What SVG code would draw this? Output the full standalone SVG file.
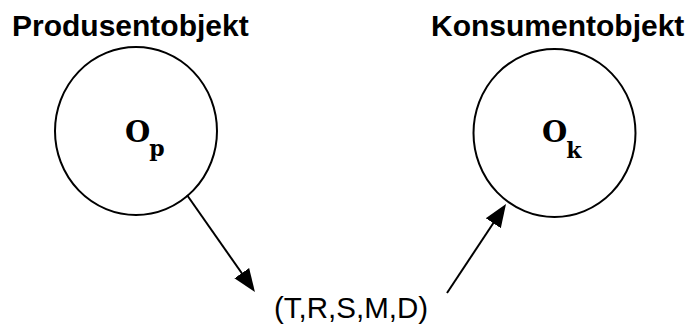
<svg xmlns="http://www.w3.org/2000/svg" width="688" height="327" viewBox="0 0 688 327">
  <style>
    .title { font-family: "Liberation Sans", Arial, sans-serif; font-weight: bold; font-size: 30px; fill: #000; }
    .obj { fill: #fff; stroke: #000; stroke-width: 2; }
    .sym { font-family: "DejaVu Serif", "Liberation Serif", serif; font-weight: bold; fill: #000; }
    .big { font-size: 29px; }
    .sub { font-size: 22px; }
    .edge { stroke: #000; stroke-width: 2; fill: none; marker-end: url(#head); }
    .label { font-family: "Liberation Sans", Arial, sans-serif; font-size: 29.5px; fill: #000; }
  </style>
  <defs>
    <marker id="head" markerUnits="userSpaceOnUse" markerWidth="24" markerHeight="20" viewBox="0 -10 24 20" refX="2" refY="0" orient="auto">
      <path d="M0,-9 L23,0 L0,9 z" fill="#000"/>
    </marker>
  </defs>

  <rect width="688" height="327" fill="#fff"/>

  <g id="producer">
    <text class="title" x="12" y="36">Produsentobjekt</text>
    <ellipse class="obj" cx="136" cy="131" rx="81" ry="84"/>
    <text class="sym" x="125" y="141.5"><tspan class="big">O</tspan><tspan class="sub" dx="-1" dy="14.5">p</tspan></text>
  </g>

  <g id="consumer">
    <text class="title" x="431" y="36">Konsumentobjekt</text>
    <ellipse class="obj" cx="554.5" cy="133" rx="81" ry="84"/>
    <text class="sym" x="542" y="141.5"><tspan class="big">O</tspan><tspan class="sub" dx="-1" dy="16.5">k</tspan></text>
  </g>

  <g id="message">
    <text class="label" x="274" y="318">(T,R,S,M,D)</text>
  </g>

  <g id="connectors">
    <line class="edge" x1="187" y1="195" x2="242.9" y2="274.8"/>
    <line class="edge" x1="447" y1="293" x2="494.4" y2="221.5"/>
  </g>
</svg>
